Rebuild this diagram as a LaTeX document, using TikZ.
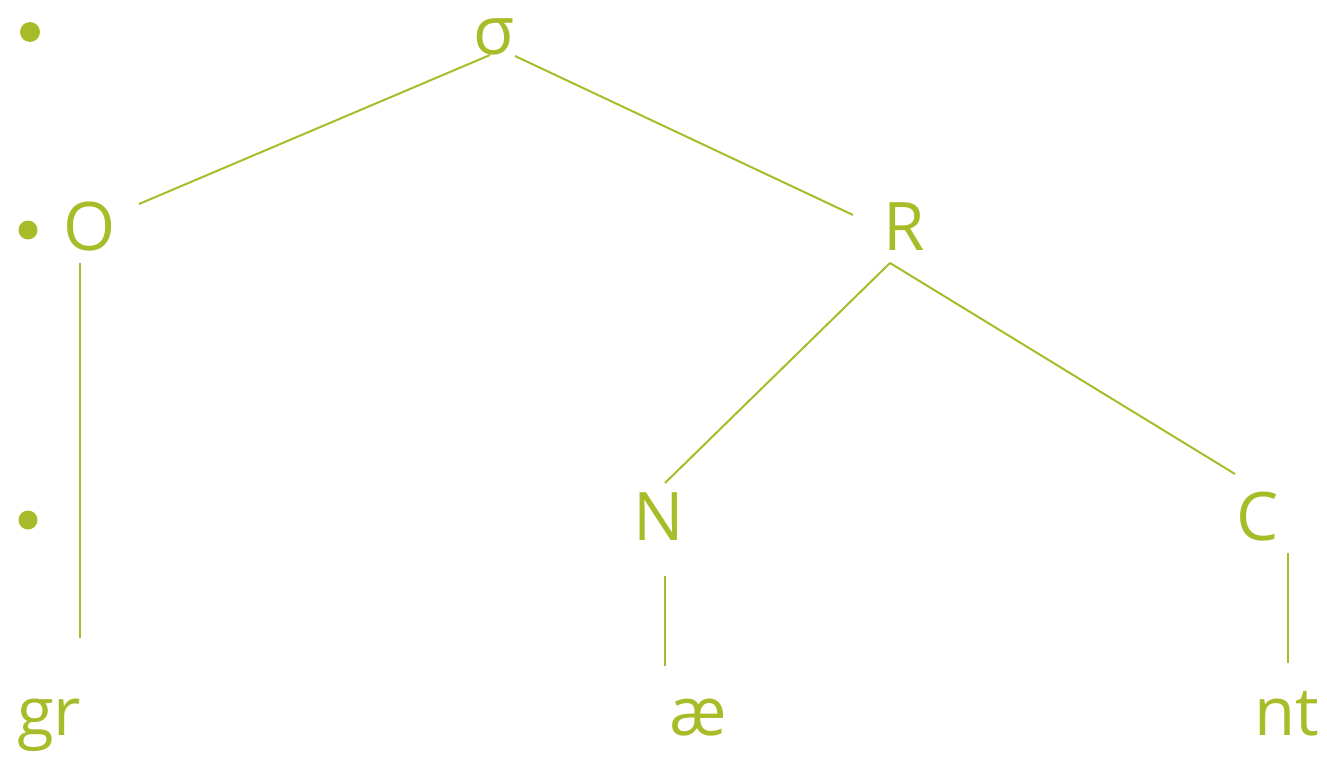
\documentclass[tikz,border=0pt]{standalone}
\usepackage{fontspec}
\setmainfont{Open Sans}
\definecolor{leaf}{HTML}{A8BC2A}
\begin{document}
\begin{tikzpicture}[x=1pt,y=-1pt,
  lbl/.style={text=leaf,inner sep=0pt,anchor=base,font=\fontsize{67}{67}\selectfont},
  edge/.style={draw=leaf,line width=2pt},
  dot/.style={fill=leaf,draw=none}]
\useasboundingbox (0,0) rectangle (1327,757);
% bullets
\fill[dot] (30,32) circle (10);
\fill[dot] (28,230) circle (9.5);
\fill[dot] (28,520) circle (9.5);
% labels
\node[lbl] (s) at (494,55) {σ};
\node[lbl] (o) at (90,250) {O};
\node[lbl] (r) at (904,250) {R};
\node[lbl] (n) at (659,540) {N};
\node[lbl] (c) at (1258,540) {C};
\node[lbl,anchor=base west] (gr) at (17,735) {gr};
\node[lbl] (ae) at (698,735) {æ};
\node[lbl] (nt) at (1287,735) {nt};
% connector end points
\coordinate (sL) at (490,55);
\coordinate (sR) at (515,56);
\coordinate (oT) at (139,204);
\coordinate (oB) at (80,263);
\coordinate (rT) at (853,215);
\coordinate (rB) at (890,263);
\coordinate (nT) at (665,483);
\coordinate (nB) at (665,576);
\coordinate (cT) at (1235,474);
\coordinate (cB) at (1288,553);
\coordinate (grT) at (80,638);
\coordinate (aeT) at (665,666);
\coordinate (ntT) at (1288,663);
\draw[edge] (sL) -- (oT);
\draw[edge] (sR) -- (rT);
\draw[edge] (rB) -- (nT);
\draw[edge] (rB) -- (cT);
\draw[edge] (oB) -- (grT);
\draw[edge] (nB) -- (aeT);
\draw[edge] (cB) -- (ntT);
\end{tikzpicture}
\end{document}
